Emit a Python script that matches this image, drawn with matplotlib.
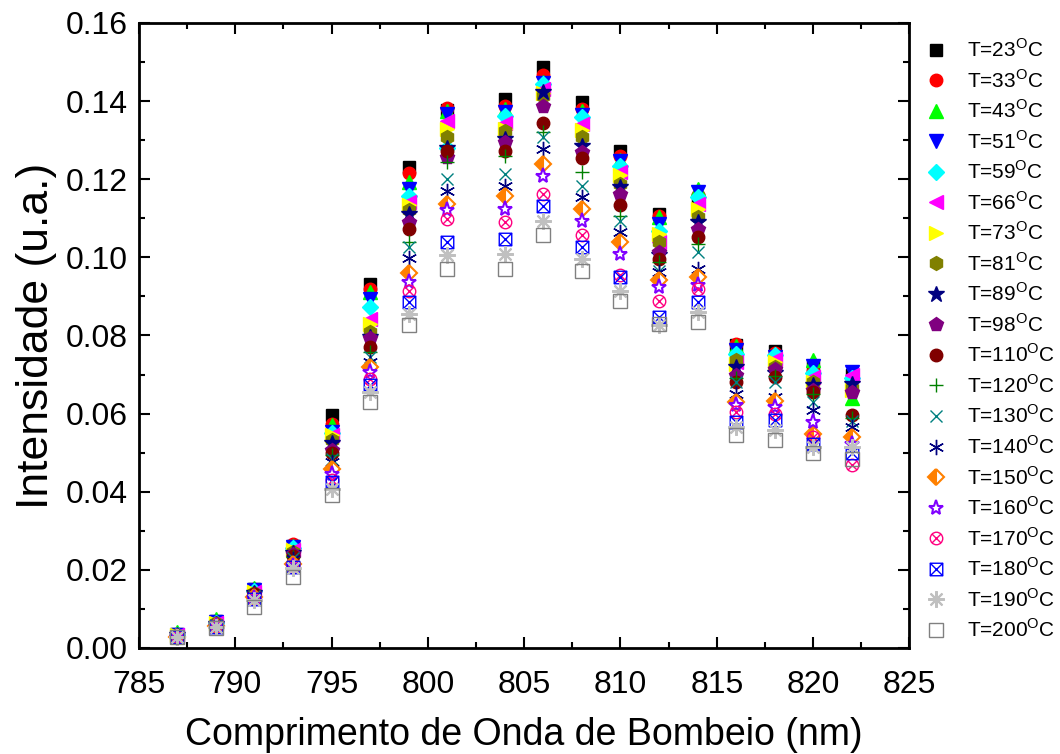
import numpy as np
import matplotlib
matplotlib.use("Agg")
import matplotlib.pyplot as plt
from matplotlib.path import Path
from matplotlib.ticker import MultipleLocator

plt.rcParams['font.family'] = ['Liberation Sans', 'DejaVu Sans']
plt.rcParams['mathtext.fontset'] = 'custom'
plt.rcParams['mathtext.rm'] = 'Liberation Sans'

# Pump wavelength (nm)
wavelength = [787, 789, 791, 793, 795, 797, 799, 801, 804, 806, 808, 810, 812, 814, 816, 818, 820, 822]

# temperature labels (degrees C)
temps = [23, 33, 43, 51, 59, 66, 73, 81, 89, 98, 110, 120, 130, 140, 150, 160, 170, 180, 190, 200]

# Intensity (a.u.) per temperature
I23 = [.0035, .0068, .0150, .0262, .0597, .0932, .1230, .1378, .1405, .1486, .1397, .1273, .1111, .1150, .0775, .0760, .0720, .0700]
I33 = [.0035, .0068, .0152, .0265, .0573, .0920, .1215, .1382, .1388, .1467, .1380, .1260, .1107, .1160, .0777, .0755, .0710, .0690]
I43 = [.0040, .0075, .0153, .0262, .0570, .0911, .1194, .1375, .1379, .1450, .1375, .1250, .1102, .1175, .0774, .0750, .0738, .0640]
I51 = [.0034, .0066, .0148, .0258, .0553, .0894, .1175, .1366, .1371, .1445, .1365, .1247, .1085, .1166, .0762, .0745, .0721, .0706]
I59 = [.0034, .0065, .0146, .0255, .0550, .0872, .1158, .1281, .1362, .1443, .1358, .1234, .1068, .1154, .0753, .0749, .0704, .0690]
I66 = [.0032, .0064, .0144, .0250, .0544, .0842, .1141, .1350, .1345, .1430, .1341, .1218, .1038, .1136, .0732, .0740, .0694, .0698]
I73 = [.0033, .0064, .0143, .0250, .0546, .0830, .1135, .1328, .1328, .1420, .1325, .1210, .1060, .1124, .0728, .0732, .0681, .0660]
I81 = [.0033, .0063, .0142, .0245, .0532, .0809, .1121, .1307, .1324, .1413, .1307, .1188, .1038, .1102, .0736, .0720, .0680, .0665]
I89 = [.0032, .0062, .0140, .0243, .0525, .0795, .1111, .1280, .1303, .1422, .1286, .1179, .1005, .1090, .0719, .0705, .0672, .0677]
I98 = [.0031, .0061, .0139, .0240, .0506, .0794, .1090, .1256, .1294, .1388, .1270, .1162, .1013, .1073, .0698, .0715, .0660, .0655]
I110 = [.0031, .0060, .0137, .0236, .0498, .0770, .1073, .1273, .1273, .1345, .1254, .1135, .0996, .1053, .0681, .0694, .0655, .0596]
I120 = [.0030, .0059, .0135, .0233, .0493, .0757, .1038, .1243, .1260, .1320, .1218, .1107, .0988, .1034, .0690, .0695, .0651, .0588]
I130 = [.0030, .0058, .0134, .0230, .0485, .0745, .1026, .1200, .1213, .1307, .1183, .1094, .0966, .1013, .0680, .0681, .0630, .0580]
I140 = [.0030, .0058, .0132, .0227, .0476, .0732, .0999, .1170, .1183, .1277, .1154, .1064, .0962, .0970, .0651, .0643, .0608, .0566]
I150 = [.0029, .0057, .0130, .0215, .0459, .0719, .0959, .1136, .1158, .1239, .1124, .1038, .0941, .0949, .0630, .0632, .0549, .0540]
I160 = [.0029, .0056, .0128, .0210, .0445, .0706, .0937, .1121, .1124, .1209, .1094, .1009, .0923, .0928, .0621, .0617, .0578, .0523]
I170 = [.0028, .0055, .0126, .0208, .0430, .0689, .0915, .1098, .1090, .1162, .1056, .0956, .0889, .0919, .0604, .0600, .0540, .0468]
I180 = [.0028, .0055, .0125, .0207, .0425, .0672, .0885, .1038, .1047, .1132, .1027, .0949, .0847, .0885, .0578, .0583, .0523, .0500]
I190 = [.0028, .0054, .0123, .0205, .0408, .0655, .0856, .1005, .1009, .1094, .0996, .0915, .0826, .0860, .0566, .0557, .0514, .0514]
I200 = [.0027, .0050, .0106, .0182, .0391, .0630, .0826, .0971, .0971, .1056, .0966, .0889, .0830, .0834, .0544, .0532, .0498, .0485]

series = [I23, I33, I43, I51, I59, I66, I73, I81, I89, I98, I110,
          I120, I130, I140, I150, I160, I170, I180, I190, I200]

# circle with an x inside, square with an x inside
circ = Path.unit_circle()
cross = Path([(-0.7, -0.7), (0.7, 0.7), (-0.7, 0.7), (0.7, -0.7)],
             [Path.MOVETO, Path.LINETO, Path.MOVETO, Path.LINETO])
circ_x = Path.make_compound_path(circ, cross)
sq = Path([(-1, -1), (1, -1), (1, 1), (-1, 1), (-1, -1)],
          [Path.MOVETO, Path.LINETO, Path.LINETO, Path.LINETO, Path.CLOSEPOLY])
cross2 = Path([(-1, -1), (1, 1), (-1, 1), (1, -1)],
              [Path.MOVETO, Path.LINETO, Path.MOVETO, Path.LINETO])
sq_x = Path.make_compound_path(sq, cross2)

styles = [
    dict(marker='s', color='black', ms=8),
    dict(marker='o', color='#ff0000', ms=9),
    dict(marker='^', color='#00ff00', ms=10),
    dict(marker='v', color='#0000ff', ms=10),
    dict(marker='D', color='#00ffff', ms=8),
    dict(marker='<', color='#ff00ff', ms=10),
    dict(marker='>', color='#ffff00', ms=10),
    dict(marker='h', color='#808000', ms=10),
    dict(marker='*', color='#000080', ms=12),
    dict(marker='p', color='#800080', ms=10),
    dict(marker='o', color='#800000', ms=9),
    dict(marker='+', color='#008000', ms=10, mew=1),
    dict(marker='x', color='#008080', ms=9, mew=1),
    dict(marker=(6, 2, 0), color='#000080', ms=11, mew=1),
    dict(marker='D', color='#ff8000', ms=8, fillstyle='left', mfcalt='white', mew=1.5),
    dict(marker='*', color='#8000ff', ms=11, mfc='white', mew=1.5),
    dict(marker=circ_x, color='#ff0080', ms=9, mfc='none', mew=1),
    dict(marker=sq_x, color='#0000ff', ms=9, mfc='none', mew=1),
    dict(marker=(8, 2, 0), color='#c0c0c0', ms=12, mew=1.5),
    dict(marker='s', color='#808080', ms=10, mfc='none', mew=1),
]

fig = plt.figure(figsize=(10.6, 7.54), dpi=100)
ax = fig.add_axes([0.131, 0.1406, 0.727, 0.829])

for T, y, st in zip(temps, series, styles):
    st = dict(st)
    mfcalt = st.pop('mfcalt', None)
    kw = dict(linestyle='none', label='T=%d$^\\mathregular{O}$C' % T)
    if mfcalt is not None:
        kw['markerfacecoloralt'] = mfcalt
    ax.plot(wavelength, y, **st, **kw)

ax.set_xlim(785, 825)
ax.set_ylim(0, 0.16)
ax.xaxis.set_major_locator(MultipleLocator(5))
ax.xaxis.set_minor_locator(MultipleLocator(2.5))
ax.yaxis.set_major_locator(MultipleLocator(0.02))
ax.yaxis.set_minor_locator(MultipleLocator(0.01))
ax.yaxis.set_major_formatter(matplotlib.ticker.FormatStrFormatter('%.2f'))
ax.tick_params(which='both', direction='in', top=True, right=True, width=1.5, labelsize=23)
ax.tick_params(axis='x', pad=16)
ax.tick_params(axis='y', pad=8)
ax.tick_params(which='major', length=8)
ax.tick_params(which='minor', length=4)
for s in ax.spines.values():
    s.set_linewidth(2)

ax.set_xlabel('Comprimento de Onda de Bombeio (nm)', fontsize=27, labelpad=12)
ax.set_ylabel('Intensidade (u.a.)', fontsize=32, labelpad=6)

fig.legend(loc='upper left', bbox_to_anchor=(0.865, 0.96), frameon=False,
           fontsize=15, labelspacing=0.38, handlelength=1.0, handletextpad=1.0,
           borderaxespad=0)

fig.savefig('out.png', dpi=100)
